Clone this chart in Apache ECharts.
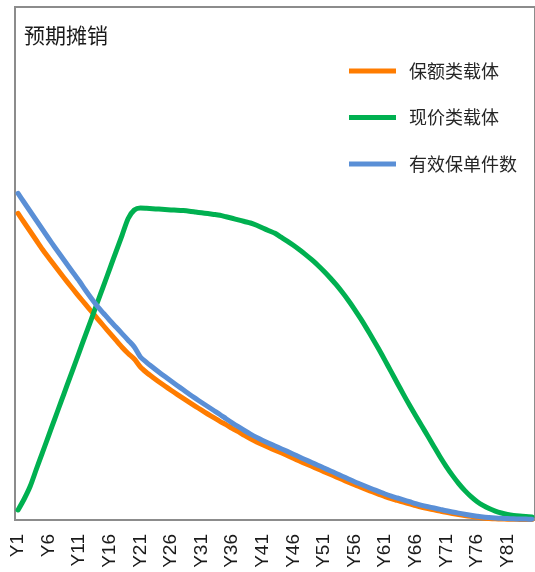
<!DOCTYPE html>
<html>
<head>
<meta charset="utf-8">
<script src="https://cdn.jsdelivr.net/npm/echarts@6/dist/echarts.min.js"></script>
<style>
  html, body { margin: 0; padding: 0; background: #fff; overflow: hidden; }
  #chart { width: 535px; height: 572px; }
</style>
</head>
<body>
<div id="chart"></div>
<script>
// Policy years Y1 .. Y85
const years = Array.from({ length: 85 }, (_, i) => 'Y' + (i + 1));

const seriesNames = ['保额类载体', '现价类载体', '有效保单件数'];

// 保额类载体
const sumAssured = [
  306.7, 297.5, 288.5, 279.5, 270.5, 262.3, 254.2, 246.2, 238.4, 230.7,
  223.2, 215.8, 208.5, 201.2, 194.0, 186.9, 179.8, 172.8, 166.5, 161.0,
  153.0, 147.5, 142.8, 138.3, 134.0, 129.8, 125.7, 121.7, 117.7, 113.7,
  109.8, 106.0, 102.3, 98.7, 95.3, 91.7, 88.3, 84.7, 81.3, 78.1,
  75.2, 72.5, 69.8, 67.2, 64.6, 61.8, 59.0, 56.3, 53.7, 51.1,
  48.4, 45.8, 43.1, 40.5, 37.8, 35.2, 32.8, 30.4, 28.0, 25.7,
  23.4, 21.3, 19.6, 17.8, 16.1, 14.3, 12.7, 11.4, 10.2, 8.9,
  7.6, 6.5, 5.5, 4.5, 3.6, 2.7, 1.9, 1.5, 1.2, 1.0,
  0.8, 0.7, 0.6, 0.5, 0.5
];

// 现价类载体
const cashValue = [
  10.0, 21.0, 34.0, 51.0, 67.6, 84.4, 101.2, 117.8, 134.6, 151.1,
  167.9, 184.7, 201.2, 218.0, 234.6, 251.4, 268.2, 284.7, 301.5, 310.0,
  312.0, 311.7, 311.3, 310.9, 310.5, 310.1, 309.8, 309.4, 308.8, 308.0,
  307.2, 306.4, 305.6, 304.7, 303.2, 301.7, 300.1, 298.5, 297.0, 294.7,
  292.0, 289.3, 286.7, 282.8, 278.9, 274.7, 270.2, 265.4, 260.3, 254.8,
  248.8, 242.3, 235.3, 227.7, 219.5, 210.7, 201.3, 191.4, 181.1, 170.5,
  159.4, 148.1, 136.8, 125.6, 114.7, 104.2, 94.0, 83.7, 73.3, 63.0,
  53.4, 44.6, 36.6, 29.6, 23.6, 18.6, 14.6, 11.4, 8.9, 7.0,
  5.6, 4.6, 3.9, 3.4, 3.0
];

// 有效保单件数
const policyCount = [
  326.7, 317.5, 308.5, 299.5, 290.5, 281.5, 272.8, 264.2, 255.7, 247.3,
  239.0, 230.0, 221.5, 213.5, 206.5, 199.5, 193.0, 186.4, 179.8, 173.0,
  163.0, 157.7, 152.8, 148.0, 143.4, 138.9, 134.5, 130.2, 125.8, 121.6,
  117.5, 113.5, 109.5, 105.5, 101.3, 97.2, 93.3, 89.5, 85.9, 82.6,
  79.6, 76.8, 74.0, 71.3, 68.6, 65.8, 63.0, 60.2, 57.5, 54.8,
  52.0, 49.3, 46.5, 43.8, 41.0, 38.3, 35.8, 33.3, 30.8, 28.4,
  26.0, 23.8, 22.0, 20.1, 18.3, 16.4, 14.7, 13.3, 12.0, 10.6,
  9.2, 8.0, 6.9, 5.8, 4.8, 3.8, 2.9, 2.4, 2.0, 1.7,
  1.4, 1.2, 1.0, 0.9, 0.8
];

const colors = ['#FF7C00', '#00B050', '#5A8FD6'];
const seriesData = [sumAssured, cashValue, policyCount];

const chart = echarts.init(document.getElementById('chart'), null, { renderer: 'canvas' });

chart.setOption({
  animation: false,
  backgroundColor: '#ffffff',
  title: {
    text: '预期摊销',
    left: 24,
    top: 25,
    padding: 0,
    textStyle: {
      fontFamily: '"Noto Sans CJK SC", sans-serif',
      fontSize: 21,
      fontWeight: 'normal',
      color: '#1a1a1a'
    }
  },
  legend: {
    orient: 'vertical',
    left: 349,
    top: 61,
    padding: 0,
    icon: 'rect',
    itemWidth: 47,
    itemHeight: 5,
    itemGap: 26.5,
    data: seriesNames,
    textStyle: {
      fontFamily: '"Noto Sans CJK SC", sans-serif',
      fontSize: 18,
      lineHeight: 20,
      color: '#262626',
      padding: [0, 0, 0, 8]
    }
  },
  grid: {
    show: true,
    left: 15,
    top: 7,
    right: -5,
    bottom: 52,
    borderColor: '#8c8c8c',
    borderWidth: 2,
    containLabel: false
  },
  xAxis: {
    type: 'category',
    data: years,
    boundaryGap: true,
    axisLine: { show: true, lineStyle: { color: '#8c8c8c', width: 2 } },
    axisTick: { show: false },
    splitLine: { show: false },
    axisLabel: {
      interval: 4,
      rotate: 90,
      margin: 14,
      fontFamily: '"Liberation Sans", Arial, sans-serif',
      fontSize: 19,
      color: '#1a1a1a'
    }
  },
  yAxis: {
    type: 'value',
    min: 0,
    max: 513,
    show: false,
    splitLine: { show: false }
  },
  series: seriesNames.map((name, k) => ({
    name: name,
    type: 'line',
    data: seriesData[k],
    showSymbol: false,
    symbol: 'none',
    smooth: 0.25,
    color: colors[k],
    lineStyle: { width: 5, color: colors[k], cap: 'round', join: 'round' },
    z: 2 + k
  }))
});
</script>
</body>
</html>
